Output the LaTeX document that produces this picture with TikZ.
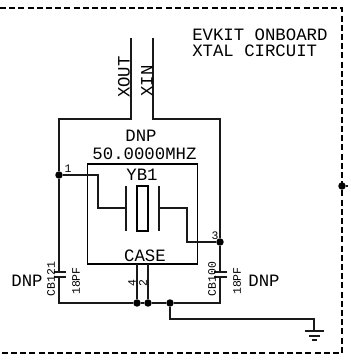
\documentclass[tikz,border=0pt]{standalone}
\usepackage{fontspec}
\setmonofont{Liberation Mono}
\tikzset{
  wire/.style={line width=1.05pt,color={rgb, 255:red, 25; green, 25; blue, 25 }},
  frameline/.style={line width=1.1pt,dash pattern=on 4.5pt off 2.4pt},
  junction/.style={circle,fill=black,draw=none,inner sep=0pt,minimum size=5.6pt},
  biglabel/.style={inner sep=0.75pt,font=\ttfamily\fontsize{13}{14}\selectfont},
  smalllabel/.style={inner sep=0.75pt,font=\ttfamily\fontsize{8.6}{10}\selectfont},
}
\begin{document}
\begin{tikzpicture}[x=0.75pt,y=0.75pt,yscale=-1,xscale=1]
\useasboundingbox (0,0) rectangle (350,360);

%Frame
\coordinate (frameTL) at (0,8);
\coordinate (frameTR) at (342,8);
\coordinate (frameBR) at (342,353);
\coordinate (frameBL) at (0,353);
\draw [frameline] (frameTL) -- (frameTR) -- (frameBR) -- (frameBL);
\node [junction] (frameDot) at (342,186) {};
\coordinate (frameStub) at (348,186);
\draw [wire] (frameDot) -- (frameStub);

%Junctions
\node [junction] (pinA) at (59,175) {};
\node [junction] (pinC) at (220,242) {};
\node [junction] (botD) at (137,303) {};
\node [junction] (botB) at (148,303) {};
\node [junction] (botG) at (170,303) {};

%XOUT net
\coordinate (xoutTop) at (131,38);
\coordinate (xoutBend) at (131,119);
\coordinate (leftTop) at (59,119);
\coordinate (capLtop) at (59,272);
\draw [wire] (xoutTop) -- (xoutBend) -- (leftTop) -- (pinA) -- (capLtop);

%XIN net
\coordinate (xinTop) at (153,38);
\coordinate (xinBend) at (153,119);
\coordinate (rightTop) at (220,119);
\coordinate (capRtop) at (220,272);
\draw [wire] (xinTop) -- (xinBend) -- (rightTop) -- (pinC) -- (capRtop);

%Bottom rail
\coordinate (capLbot) at (59,277);
\coordinate (capRbot) at (220,277);
\coordinate (railL) at (59,303);
\coordinate (railR) at (220,303);
\draw [wire] (capLbot) -- (railL) -- (botD) -- (botB) -- (botG) -- (railR) -- (capRbot);

%Capacitors
\draw [wire] (54,272) -- (66,272);
\draw [wire] (54,277) -- (66,277);
\draw [wire] (214,272) -- (227,272);
\draw [wire] (214,277) -- (227,277);

%Case
\node [draw,line width=1.05pt,minimum width=82.5pt,minimum height=75pt,inner sep=0pt] (case) at (142.5,214) {};
\coordinate (pinD) at (137,264);
\coordinate (pinB) at (148,264);
\draw [wire] (pinD) -- (botD);
\draw [wire] (pinB) -- (botB);

%Crystal
\node [draw,line width=1.05pt,minimum width=8.25pt,minimum height=33.75pt,inner sep=0pt] (xtal) at (142.5,208.5) {};
\coordinate (plateLt) at (126,186);
\coordinate (plateLb) at (126,231);
\coordinate (plateRt) at (159,186);
\coordinate (plateRb) at (159,231);
\draw [wire] (plateLt) -- (plateLb);
\draw [wire] (plateRt) -- (plateRb);
\coordinate (plateLm) at (126,208);
\coordinate (plateRm) at (159,208);
\draw [wire] (pinA) -- (98,175) -- (98,208) -- (plateLm);
\draw [wire] (plateRm) -- (187,208) -- (187,242) -- (pinC);

%Ground
\coordinate (gndTop) at (314,331);
\draw [wire] (botG) -- (170,319) -- (314,319) -- (gndTop);
\draw [wire] (305,331) -- (324,331);
\draw [wire] (309,336) -- (320,336);
\draw [wire] (312,340) -- (317,340);

% Text Node
\node [biglabel,anchor=west] (titleA) at (191,35) {EVKIT ONBOARD};
\node [biglabel,anchor=west] (titleB) at (191,51) {XTAL CIRCUIT};
\node [biglabel] (dnpTop) at (141,136) {DNP};
\node [biglabel] (freq) at (144.5,154) {50.0000MHZ};
\node [biglabel] (refdes) at (142,175) {YB1};
\node [biglabel] (caseLabel) at (145,256) {CASE};
\node [biglabel,rotate=90] (xoutLabel) at (124,77) {XOUT};
\node [biglabel,rotate=90] (xinLabel) at (147,81) {XIN};
\node [biglabel] (dnpL) at (27,281) {DNP};
\node [biglabel] (dnpR) at (264,281) {DNP};
\node [smalllabel] (numA) at (68,169) {1};
\node [smalllabel] (numC) at (215,236) {3};
\node [smalllabel,rotate=90] (numD) at (132,283) {4};
\node [smalllabel,rotate=90] (numB) at (143,283) {2};
\node [smalllabel,rotate=90] (capLname) at (51,279) {CB121};
\node [smalllabel,rotate=90] (capLval) at (76,281) {18PF};
\node [smalllabel,rotate=90] (capRname) at (212,279) {CB100};
\node [smalllabel,rotate=90] (capRval) at (237,281) {18PF};

\end{tikzpicture}
\end{document}
